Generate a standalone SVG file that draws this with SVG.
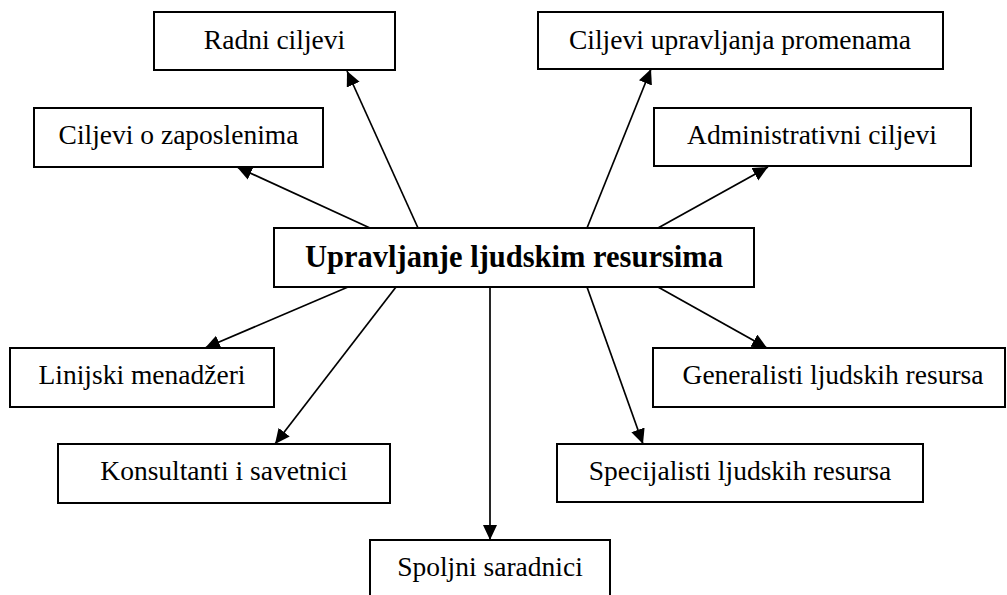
<svg xmlns="http://www.w3.org/2000/svg" width="1007" height="595" viewBox="0 0 1007 595">
<style>
.box{fill:#fff;stroke:#000;stroke-width:2}
.lbl{font-family:"Liberation Serif","DejaVu Serif",serif;font-size:27.5px;fill:#000;text-anchor:middle}
.main{font-family:"Liberation Serif","DejaVu Serif",serif;font-size:30.5px;font-weight:bold;fill:#000;text-anchor:middle}
.con{stroke:#000;stroke-width:1.7;fill:none;marker-end:url(#ah)}
</style>
<defs>
<marker id="ah" markerUnits="userSpaceOnUse" markerWidth="17" markerHeight="15" refX="15" refY="7" orient="auto">
<path d="M0,0 L15,7 L0,14 z" fill="#000"/>
</marker>
</defs>
<rect width="1007" height="595" fill="#fff"/>
<g id="connectors">
<line class="con" x1="418" y1="228" x2="347" y2="71"/>
<line class="con" x1="370" y1="228" x2="237" y2="167"/>
<line class="con" x1="587" y1="228" x2="651" y2="69"/>
<line class="con" x1="658" y1="228" x2="768" y2="167"/>
<line class="con" x1="348" y1="287" x2="205" y2="348"/>
<line class="con" x1="396" y1="287" x2="275" y2="444"/>
<line class="con" x1="490" y1="287" x2="490" y2="540"/>
<line class="con" x1="587" y1="287" x2="643" y2="444"/>
<line class="con" x1="658" y1="287" x2="767" y2="348"/>
</g>
<g id="central">
<rect class="box" x="274" y="228" width="480" height="59"/>
<text class="main" x="514" y="267">Upravljanje ljudskim resursima</text>
</g>
<g id="radni">
<rect class="box" x="154" y="12" width="241" height="58"/>
<text class="lbl" x="274.5" y="49">Radni ciljevi</text>
</g>
<g id="promene">
<rect class="box" x="538" y="12" width="405" height="57"/>
<text class="lbl" x="740" y="49">Ciljevi upravljanja promenama</text>
</g>
<g id="zaposleni">
<rect class="box" x="34" y="108" width="289" height="59"/>
<text class="lbl" x="178.5" y="144">Ciljevi o zaposlenima</text>
</g>
<g id="administrativni">
<rect class="box" x="654" y="108" width="317" height="58"/>
<text class="lbl" x="812" y="144">Administrativni ciljevi</text>
</g>
<g id="linijski">
<rect class="box" x="10" y="348" width="264" height="59"/>
<text class="lbl" x="142" y="384">Linijski menadžeri</text>
</g>
<g id="generalisti">
<rect class="box" x="653" y="348" width="352" height="59"/>
<text class="lbl" x="833" y="384">Generalisti ljudskih resursa</text>
</g>
<g id="konsultanti">
<rect class="box" x="58" y="444" width="332" height="59"/>
<text class="lbl" x="224" y="480">Konsultanti i savetnici</text>
</g>
<g id="specijalisti">
<rect class="box" x="557" y="444" width="366" height="58"/>
<text class="lbl" x="740" y="480">Specijalisti ljudskih resursa</text>
</g>
<g id="spoljni">
<rect class="box" x="370" y="540" width="240" height="60"/>
<text class="lbl" x="490" y="576">Spoljni saradnici</text>
</g>
</svg>
